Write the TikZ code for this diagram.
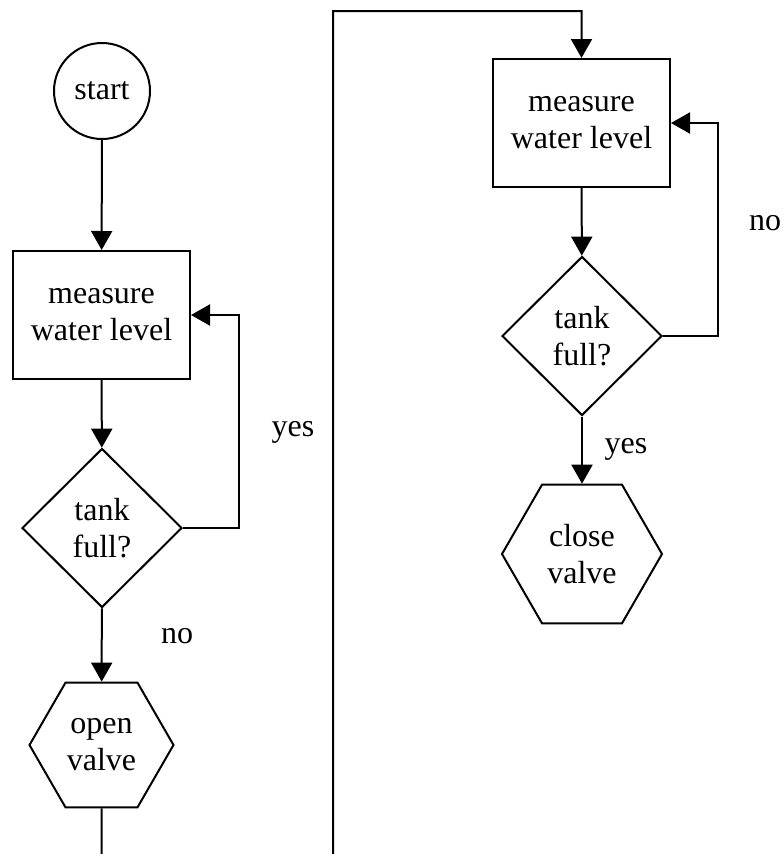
\documentclass[tikz,border=0pt]{standalone}
\usepackage{fontspec}
\setmainfont{Liberation Serif}
\usetikzlibrary{arrows.meta,shapes.geometric}
\begin{document}
\begin{tikzpicture}[x=1pt,y=-1pt,
  line width=2pt,
  every node/.style={font=\fontsize{32}{37}\selectfont, align=center},
  startc/.style={draw, circle, minimum size=96pt, inner sep=0pt},
  box/.style={draw, rectangle, minimum width=177pt, minimum height=128pt, inner sep=0pt},
  decision/.style={draw, diamond, aspect=1, minimum width=160pt, minimum height=159pt, inner sep=0pt},
  hexa/.style={draw, regular polygon, regular polygon sides=6, inner sep=0pt},
  lbl/.style={anchor=base},
  flow/.style={-{Triangle[length=19pt,width=21pt]}}]

\useasboundingbox (0,0) rectangle (783,854);
\clip (0,0) rectangle (783,854);

% first column: open the valve once the tank is not full
\node[startc] (start) at (102,91) {start};
\node[box] (m1) at (101.5,315) {measure\\water level};
\node[decision] (d1) at (102,528) {tank\\full?};
\node[hexa, minimum size=144pt] (v1) at (101.5,745) {open\\valve};

% second column: close the valve once the tank is full
\node[box] (m2) at (581.5,123) {measure\\water level};
\node[decision] (d2) at (582,336) {tank\\full?};
\node[hexa, minimum size=160pt] (v2) at (582,554) {close\\valve};

% turning points of the long connector between the columns
\coordinate (c1) at (101.5,900);
\coordinate (c2) at (333,900);
\coordinate (c3) at (333,11);

\draw[flow] (start) -- (m1);
\draw[flow] (m1) -- (d1);
\draw[flow] (d1.east) -- ++(56,0) |- (m1.east);
\draw[flow] (d1) -- (v1);
\draw[flow] (v1.south) -- (c1) -- (c2) -- (c3) -| (m2.north);

\draw[flow] (m2) -- (d2);
\draw[flow] (d2.east) -- ++(55,0) |- (m2.east);
\draw[flow] (d2) -- (v2);

% branch labels
\node[lbl] (yes1) at (293,436) {yes};
\node[lbl] (no1) at (177,643) {no};
\node[lbl] (no2) at (765,230) {no};
\node[lbl] (yes2) at (626,453) {yes};
\end{tikzpicture}
\end{document}
